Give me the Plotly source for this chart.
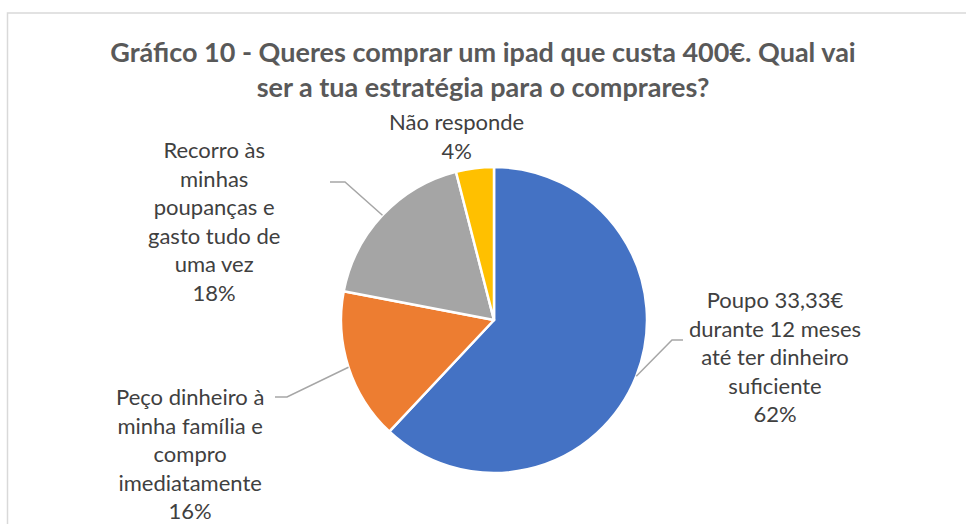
import math
import plotly.graph_objects as go

W, H = 966, 524

categories = [
    "Poupo 33,33€ durante 12 meses até ter dinheiro suficiente",
    "Peço dinheiro à minha família e compro imediatamente",
    "Recorro às minhas poupanças e gasto tudo de uma vez",
    "Não responde",
]
label_lines = [
    "Poupo 33,33€<br>durante 12 meses<br>até ter dinheiro<br>suficiente",
    "Peço dinheiro à<br>minha família e<br>compro<br>imediatamente",
    "Recorro às<br>minhas<br>poupanças e<br>gasto tudo de<br>uma vez",
    "Não responde",
]
values = [62, 16, 18, 4]
colors = ["#4472C4", "#ED7D31", "#A5A5A5", "#FFC000"]

title = "Gráfico 10 - Queres comprar um ipad que custa 400€. Qual vai<br>ser a tua estratégia para o comprares?"

# pie geometry in pixels
cx, cy, r = 494, 320, 153

def px(x):
    return x / W

def py(y):
    return 1 - y / H

fig = go.Figure()
fig.add_trace(go.Pie(
    labels=categories,
    values=values,
    sort=False,
    direction="clockwise",
    rotation=0,
    marker=dict(colors=colors, line=dict(color="white", width=2.5)),
    textinfo="none",
    hoverinfo="label+percent",
    showlegend=False,
    domain=dict(x=[px(cx - r), px(cx + r)], y=[py(cy + r), py(cy - r)]),
))

total = sum(values)
pcts = [f"{round(v / total * 100)}%" for v in values]

# label block centres (pixels) and leader line elbows
label_pos = [(775, 356), (190, 453), (214, 221), (456, 136)]
elbows = [((683, 340), (672, 340)), ((275, 397), (287, 397)), ((330, 182), (345, 182)), None]

font_fam = "Lato, Carlito, Calibri, sans-serif"
for i in range(len(values)):
    text = f"{label_lines[i]}<br>{pcts[i]}"
    lx, ly = label_pos[i]
    fig.add_annotation(
        x=px(lx), y=py(ly), xref="paper", yref="paper",
        text=text, showarrow=False, align="center",
        xanchor="center", yanchor="middle",
        font=dict(family=font_fam, size=22, color="#404040"),
    )

# leader lines: from the slice edge (computed from values) to the label
start = 0.0
for i, v in enumerate(values):
    ang = (start + v / 2) / total * 2 * math.pi
    start += v
    if elbows[i] is None:
        continue
    ex, ey = cx + r * math.sin(ang), cy - r * math.cos(ang)
    (hx, hy), (bx, by) = elbows[i]
    path = f"M {px(hx)} {py(hy)} L {px(bx)} {py(by)} L {px(ex)} {py(ey)}"
    fig.add_shape(type="path", xref="paper", yref="paper", path=path,
                  line=dict(color="#A6A6A6", width=1.5))

# chart area border
fig.add_shape(type="rect", xref="paper", yref="paper",
              x0=px(7.5), x1=px(W + 5), y0=py(H + 5), y1=py(13),
              line=dict(color="#D9D9D9", width=1.5))

fig.update_layout(
    width=W, height=H,
    margin=dict(l=0, r=0, t=0, b=0),
    paper_bgcolor="white",
    plot_bgcolor="white",
    title=dict(
        text=title, x=0.5, xanchor="center", y=py(62), yanchor="middle",
        font=dict(family=font_fam, size=27, color="#595959", weight="bold"),
    ),
)

fig.write_html(
    "out.html",
    config={"displayModeBar": False},
    post_script="document.body.style.margin='0';document.body.style.overflow='hidden';",
)
